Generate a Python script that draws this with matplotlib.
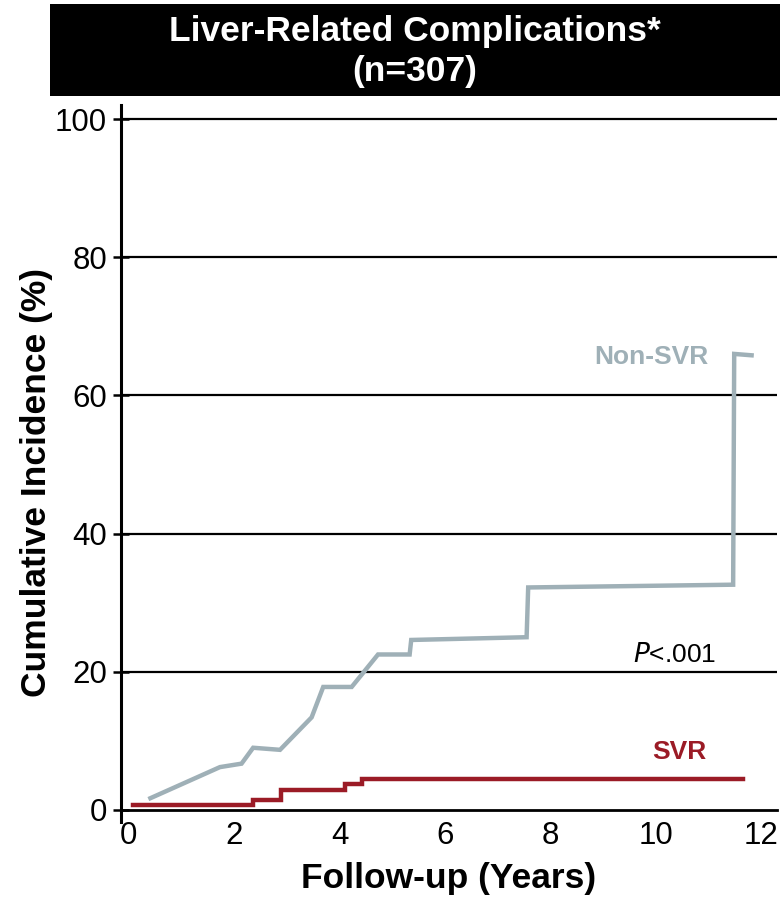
import matplotlib
matplotlib.use('Agg')
from matplotlib import pyplot as plt
from matplotlib.patches import Rectangle

# cumulative incidence (%) by follow-up year
non_svr_years = [0.41, 1.73, 2.14, 2.36, 2.87, 3.47, 3.69, 4.23, 4.73, 5.33, 5.36, 7.55, 7.58, 11.47, 11.49, 11.82]
non_svr_pct = [1.7, 6.2, 6.7, 9.0, 8.7, 13.4, 17.8, 17.8, 22.5, 22.5, 24.6, 25.0, 32.2, 32.6, 66.0, 65.8]

svr_years = [0.08, 2.36, 2.36, 2.88, 2.88, 4.10, 4.10, 4.43, 4.43, 11.65]
svr_pct = [0.7, 0.7, 1.5, 1.5, 2.9, 2.9, 3.8, 3.8, 4.5, 4.5]

y_ticks = [0, 20, 40, 60, 80, 100]
x_ticks = [0, 2, 4, 6, 8, 10, 12]

GRAY = '#9fb0b7'
RED = '#9b1b26'

plt.rcParams['font.family'] = ['Liberation Sans', 'DejaVu Sans']

fig = plt.figure(figsize=(7.8, 8.99), dpi=100)
ax = fig.add_axes([0.155, 0.086, 0.841, 0.797])

# title banner
fig.patches.append(Rectangle((50 / 780, 1 - 96 / 899), 1 - 50 / 780, 92 / 899,
                             transform=fig.transFigure, facecolor='black', edgecolor='none'))
fig.text(0.532, 1 - 31 / 899, 'Liver-Related Complications*', color='white',
         fontsize=25.5, fontweight='bold', ha='center', va='center')
fig.text(0.532, 1 - 72 / 899, '(n=307)', color='white',
         fontsize=25.5, fontweight='bold', ha='center', va='center')

for y in y_ticks[1:]:
    ax.axhline(y, color='black', lw=1.6, zorder=1)

ax.plot(non_svr_years, non_svr_pct, color=GRAY, lw=3.2, solid_joinstyle='miter', zorder=3)
ax.plot(svr_years, svr_pct, color=RED, lw=3.2, solid_joinstyle='miter', zorder=3)

ax.text(9.92, 65.5, 'Non-SVR', color=GRAY, fontsize=19, fontweight='bold', ha='center', va='center')
ax.text(10.44, 8.4, 'SVR', color=RED, fontsize=19, fontweight='bold', ha='center', va='center')
ax.text(10.36, 22.4, r'$\mathit{P}$<.001', color='black', fontsize=19, ha='center', va='center')

ax.set_xlim(-0.15, 12.3)
ax.set_ylim(-1.7, 102)
ax.set_xticks(x_ticks)
ax.set_yticks(y_ticks)
ax.tick_params(axis='y', direction='inout', length=12, width=1.8, labelsize=22.5, pad=4)
ax.tick_params(axis='x', length=0, labelsize=22.5, pad=8)

for side in ['top', 'right']:
    ax.spines[side].set_visible(False)
ax.spines['bottom'].set_position(('data', 0))
ax.spines['bottom'].set_linewidth(2.0)
ax.spines['left'].set_linewidth(2.2)

ax.set_xlabel('Follow-up (Years)', fontsize=25.5, fontweight='bold', labelpad=8)
ax.set_ylabel('Cumulative Incidence (%)', fontsize=25.5, fontweight='bold', labelpad=1)
ax.yaxis.label.set_y(0.473)

fig.savefig('out.png', dpi=100)
